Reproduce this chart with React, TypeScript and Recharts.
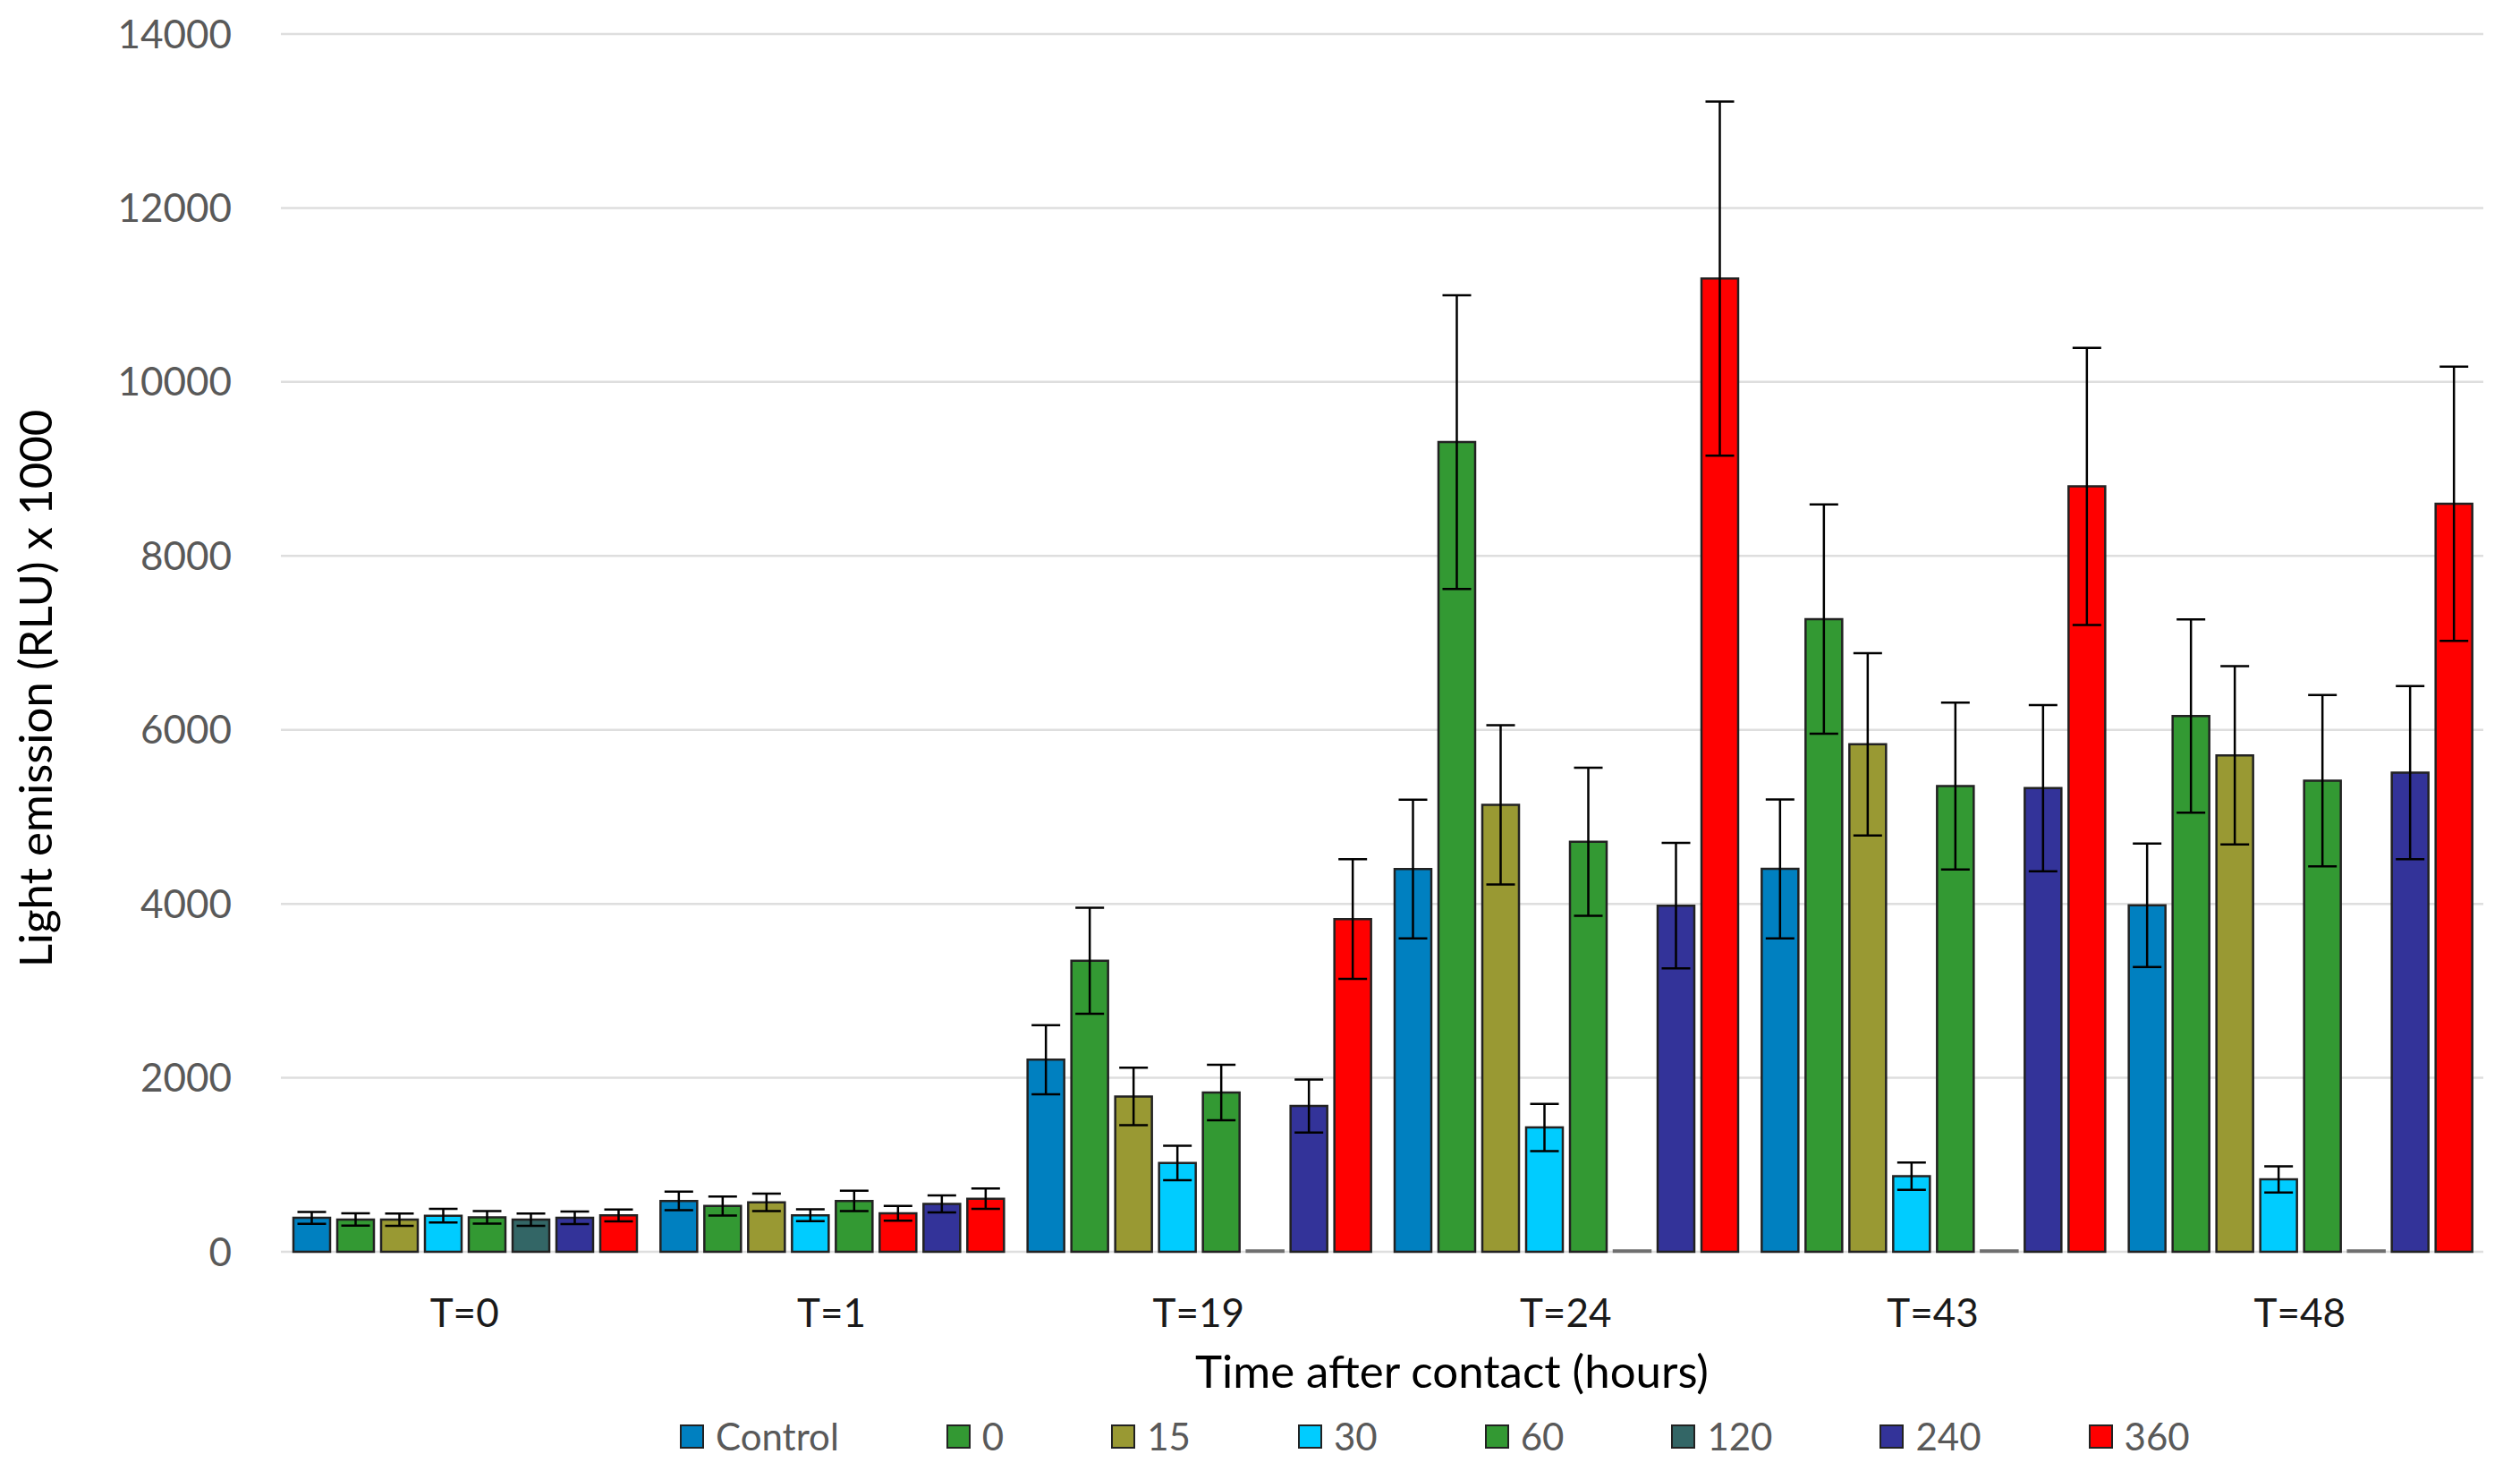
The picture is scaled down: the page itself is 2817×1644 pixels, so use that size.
import { BarChart, Bar, XAxis, YAxis, CartesianGrid, Legend, ErrorBar, Cell, Label } from "recharts";

/* ── Data ──────────────────────────────────────────────────── */
const TIMES = ["T=0", "T=1", "T=19", "T=24", "T=43", "T=48"];
const SERIES = ["Control", "0", "15", "30", "60", "120", "240", "360"];
const Y_TICKS = [0, 2000, 4000, 6000, 8000, 10000, 12000, 14000];

const CONTROL = [390, 585, 2208, 4401, 4402, 3983];
const C0 = [371, 526, 3345, 9309, 7273, 6159];
const C15 = [370, 568, 1786, 5138, 5834, 5707];
const C30 = [415, 420, 1021, 1429, 870, 832];
const C60 = [395, 584, 1830, 4713, 5354, 5416];
const C120 = [370, 443, 15, 15, 15, 15];
const C240 = [391, 550, 1676, 3979, 5330, 5508];
const C360 = [418, 610, 3825, 11188, 8799, 8600];

const ERR_CONTROL = [68, 106, 398, 797, 799, 709];
const ERR_C0 = [71, 110, 610, 1688, 1318, 1110];
const ERR_C15 = [71, 100, 330, 915, 1047, 1025];
const ERR_C30 = [78, 68, 199, 271, 157, 150];
const ERR_C60 = [72, 117, 319, 851, 960, 985];
const ERR_C120 = [71, 85, null, null, null, null];
const ERR_C240 = [72, 97, 305, 722, 956, 995];
const ERR_C360 = [68, 117, 688, 2036, 1594, 1577];

const VALUES = [CONTROL, C0, C15, C30, C60, C120, C240, C360];
const ERRORS = [ERR_CONTROL, ERR_C0, ERR_C15, ERR_C30, ERR_C60, ERR_C120, ERR_C240, ERR_C360];

/* ── Styles ────────────────────────────────────────────────── */
const COLORS = ["#0080C0", "#339933", "#999933", "#00CCFF", "#339933", "#336666", "#333399", "#FF0000"];
// the "120" series has its points recoloured per time point in the original
const C120_POINT_COLORS = ["#336666", "#FF0000", "#7F7F7F", "#7F7F7F", "#7F7F7F", "#7F7F7F"];
const FONT = "Lato, 'Open Sans', sans-serif";

const rows = TIMES.map((time, i) => {
  const row: Record<string, string | number | null> = { time };
  VALUES.forEach((vals, s) => {
    row[`v${s}`] = vals[i];
    row[`e${s}`] = ERRORS[s][i];
  });
  return row;
});

const XTitle = (props: any) => {
  const vb = props.viewBox;
  const x = vb.x + vb.width / 2 + 78;
  return (
    <text x={x} y={vb.y + 152} textAnchor="middle" fontFamily={FONT} fontSize={51} fill="#000">
      Time after contact (hours)
    </text>
  );
};

const YTitle = (props: any) => {
  const vb = props.viewBox;
  const cx = 58;
  const cy = vb.y + vb.height / 2 + 51;
  return (
    <text
      x={cx}
      y={cy}
      transform={`rotate(-90, ${cx}, ${cy})`}
      textAnchor="middle"
      fontFamily={FONT}
      fontSize={51}
      fill="#000"
    >
      Light emission (RLU) x 1000
    </text>
  );
};

const renderLegend = (props: any) => {
  const items = [...props.payload].sort(
    (a: any, b: any) => SERIES.indexOf(a.value) - SERIES.indexOf(b.value)
  );
  return (
    <div style={{ display: "flex", alignItems: "center", fontFamily: FONT, fontSize: 42, color: "#595959" }}>
      {items.map((entry: any) => (
        <div key={entry.value} style={{ display: "flex", alignItems: "center", marginRight: 120 }}>
          <span
            style={{
              display: "inline-block",
              width: 23,
              height: 23,
              background: entry.color,
              border: "2px solid #222",
              marginRight: 13,
            }}
          />
          <span>{entry.value}</span>
        </div>
      ))}
    </div>
  );
};

export default function App() {
  return (
    <div style={{ position: "absolute", left: 0, top: 0, width: 2817, height: 1644, background: "#fff" }}>
      <BarChart
        width={2817}
        height={1644}
        data={rows}
        margin={{ top: 38, right: 41, bottom: 145, left: 114 }}
        barCategoryGap={14}
        barGap={8}
      >
        <CartesianGrid vertical={false} stroke="#dedede" strokeWidth={2.5} />
        <XAxis
          dataKey="time"
          height={100}
          tickLine={false}
          axisLine={false}
          tickSize={0}
          tickMargin={53}
          tick={{ fontFamily: FONT, fontSize: 44, fill: "#1a1a1a" }}
          label={<Label content={XTitle} />}
        />
        <YAxis
          width={200}
          domain={[0, 14000]}
          ticks={Y_TICKS}
          interval={0}
          tickLine={false}
          axisLine={false}
          tickSize={0}
          tickMargin={55}
          tick={{ fontFamily: FONT, fontSize: 44, fill: "#595959" }}
          label={<Label content={YTitle} />}
        />
        <Legend
          layout="horizontal"
          verticalAlign="middle"
          itemSorter={null}
          content={renderLegend}
          wrapperStyle={{ left: 760, top: 1580, width: 1900, height: 46 }}
        />
        {SERIES.map((name, s) => (
          <Bar
            key={name}
            name={name}
            dataKey={`v${s}`}
            fill={COLORS[s]}
            stroke="#222"
            strokeWidth={2.5}
            isAnimationActive={false}
          >
            {name === "120" &&
              TIMES.map((t, i) => (
                <Cell
                  key={t}
                  fill={C120_POINT_COLORS[i]}
                  stroke={i >= 2 ? "#6f6f6f" : "#222"}
                />
              ))}
            <ErrorBar
              dataKey={`e${s}`}
              width={16}
              stroke="#000"
              strokeWidth={2.5}
              isAnimationActive={false}
            />
          </Bar>
        ))}
      </BarChart>
    </div>
  );
}
